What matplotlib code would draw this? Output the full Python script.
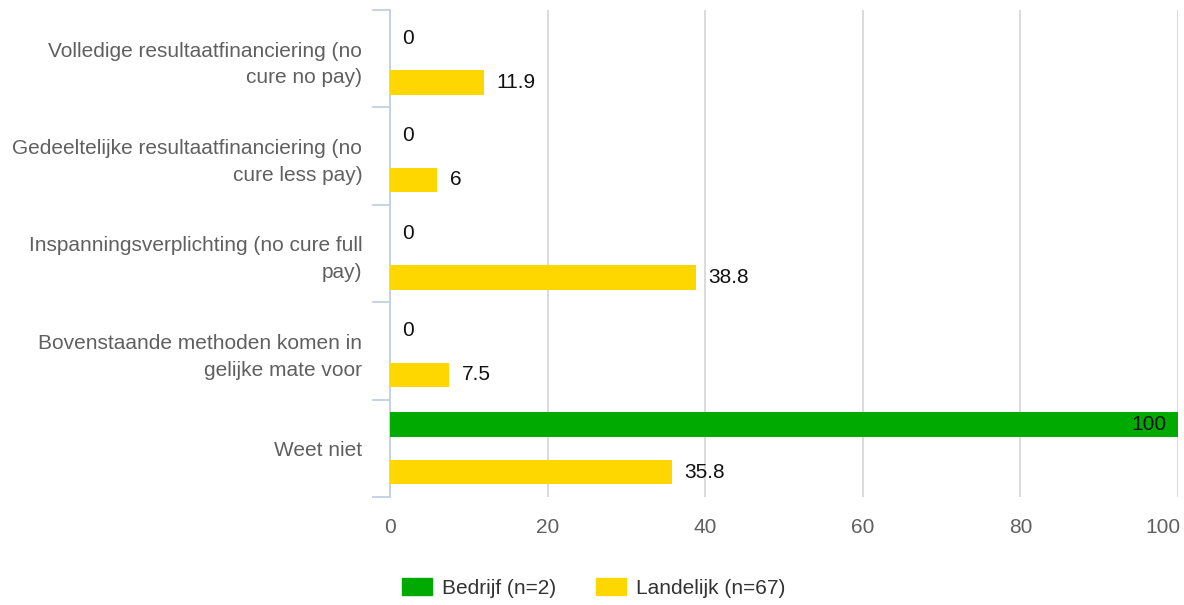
import matplotlib
matplotlib.use("Agg")
import matplotlib.pyplot as plt
from matplotlib.patches import Patch
import numpy as np

plt.rcParams['font.family'] = ['Liberation Sans', 'DejaVu Sans']

categories = [
    "Volledige resultaatfinanciering (no\ncure no pay)",
    "Gedeeltelijke resultaatfinanciering (no\ncure less pay)",
    "Inspanningsverplichting (no cure full\npay)",
    "Bovenstaande methoden komen in\ngelijke mate voor",
    "Weet niet",
]
bedrijf = [0, 0, 0, 0, 100]
landelijk = [11.9, 6, 38.8, 7.5, 35.8]
series_names = ["Bedrijf (n=2)", "Landelijk (n=67)"]
x_ticks = [0, 20, 40, 60, 80, 100]

green = "#00AA00"
yellow = "#FFD700"
label_gray = "#606060"
FS = 15

W, H = 1184, 605
fig = plt.figure(figsize=(W / 100, H / 100), dpi=100)
ax = fig.add_axes([390 / W, 1 - 497 / H, (1178 - 390) / W, (497 - 10) / H])

y = np.arange(len(categories))
off = 0.245
h = 0.25
ax.barh(y - off, bedrijf, height=h, color=green, zorder=3)
ax.barh(y + off, landelijk, height=h, color=yellow, zorder=3)

def fmt(v):
    return f"{v:g}"

for yi, v in zip(y - off, bedrijf):
    if v >= 95:
        ax.annotate(fmt(v), (v, yi), xytext=(-8, 0), textcoords="offset points",
                    ha="right", va="center", fontsize=FS, color="#111111", zorder=4)
    else:
        ax.annotate(fmt(v), (v, yi), xytext=(9, -2.5), textcoords="offset points",
                    ha="left", va="center", fontsize=FS, color="#111111", zorder=4)
for yi, v in zip(y + off, landelijk):
    ax.annotate(fmt(v), (v, yi), xytext=(9, 0), textcoords="offset points",
                ha="left", va="center", fontsize=FS, color="#111111", zorder=4)

ax.set_xlim(0, 100)
ax.set_ylim(len(categories) - 0.5, -0.5)
ax.set_xticks(x_ticks)
tick_texts = [str(t) for t in x_ticks]
ax.set_xticklabels(tick_texts[:-1] + [""], fontsize=FS, color=label_gray)
ax.tick_params(axis="x", length=0, pad=15)
# last tick label is shifted left so it stays inside the figure
ax.annotate(tick_texts[-1], (x_ticks[-1], 0), xycoords=("data", "axes fraction"),
            xytext=(2, -15), textcoords="offset points", ha="right", va="top",
            fontsize=FS, color=label_gray, annotation_clip=False)

ax.set_yticks(y)
ax.set_yticklabels(categories, fontsize=FS, color=label_gray, linespacing=1.52)
ax.tick_params(axis="y", which="major", length=0, pad=20)
ax.set_yticks(np.arange(len(categories) + 1) - 0.5, minor=True)
ax.tick_params(axis="y", which="minor", length=13, width=1.3, color="#C0D0E0")

ax.grid(axis="x", color="#D8D8D8", linewidth=1.3, zorder=0)
ax.grid(axis="y", visible=False)
for s in ["top", "right", "bottom"]:
    ax.spines[s].set_visible(False)
ax.spines["left"].set_color("#C0D0E0")
ax.spines["left"].set_linewidth(1.3)
ax.set_axisbelow(True)

handles = [Patch(facecolor=green, edgecolor=green), Patch(facecolor=yellow, edgecolor=yellow)]
fig.legend(handles, series_names, loc="center", bbox_to_anchor=(594 / W, 1 - 588 / H),
           ncol=2, frameon=False, fontsize=FS, handlelength=1.45, handleheight=0.87,
           handletextpad=0.48, columnspacing=1.9, labelcolor="#333333")

fig.savefig("out.png", dpi=100)
